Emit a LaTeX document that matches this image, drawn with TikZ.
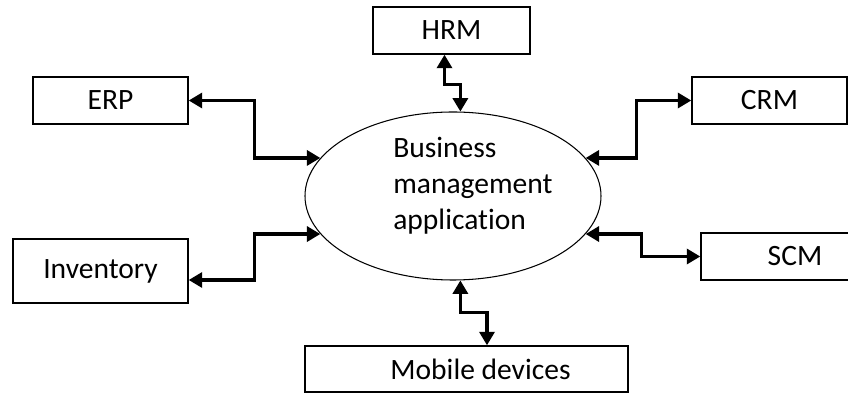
\documentclass[tikz,border=0pt]{standalone}
\usepackage{fontspec}
\setmainfont[Ligatures=NoCommon]{Carlito}
\usepackage{tikz}
\usetikzlibrary{arrows.meta, shapes.geometric}

\begin{document}
\begin{tikzpicture}[
        font=\fontsize{16.8}{20.6}\selectfont,
        module/.style={draw, line width=0.8pt, minimum height=0.94cm, inner sep=0pt},
        link/.style={line width=2pt, <->, >={Triangle[length=0.27cm, width=0.3cm]}}
    ]
        \useasboundingbox (0, 0) rectangle (16.96, 7.88);
        \clip (0, 0) rectangle (16.96, 7.88);
        \node[ellipse, draw, line width=0.6pt, minimum width=5.92cm, minimum height=3.36cm] (app) at (9.06, 3.96) {};
        \node[anchor=west, align=left, inner sep=0pt] (app-text) at (7.86, 4.16) {Business\\management\\application};
        \node[module, minimum width=3.14cm] (hrm)       at ( 9.03, 7.27) {HRM};
        \node[module, minimum width=3.10cm] (erp)       at ( 2.21, 5.87) {ERP};
        \node[module, minimum width=3.10cm] (crm)       at (15.39, 5.87) {CRM};
        \node[module, minimum width=3.50cm, minimum height=1.28cm] (inventory) at ( 2.01, 2.46) {Inventory};
        \node[module, minimum width=3.76cm] (scm)       at (15.90, 2.75) {SCM};
        \node[module, minimum width=6.46cm, minimum height=0.92cm] (mobile) at ( 9.33, 0.50) {\hspace*{0.56cm}Mobile devices};
        \draw[link] (erp.east) -- ++(1.32, 0) |- (app.164);
        \draw[link] ([yshift=-0.18cm]inventory.east) -- ++(1.32, 0) |- (app.196);
        \draw[link] (crm.west) -- ++(-1.1, 0) |- (app.16);
        \draw[link] (scm.west) -- ++(-1.18, 0) |- (app.-16);
        \draw[link] ([xshift=-0.14cm]hrm.south) -- ++(0, -0.6) -| (app.85);
        \draw[link] ([xshift=0.41cm]mobile.north) -- ++(0, 0.66) -| (app.-85);
    \end{tikzpicture}
\end{document}
